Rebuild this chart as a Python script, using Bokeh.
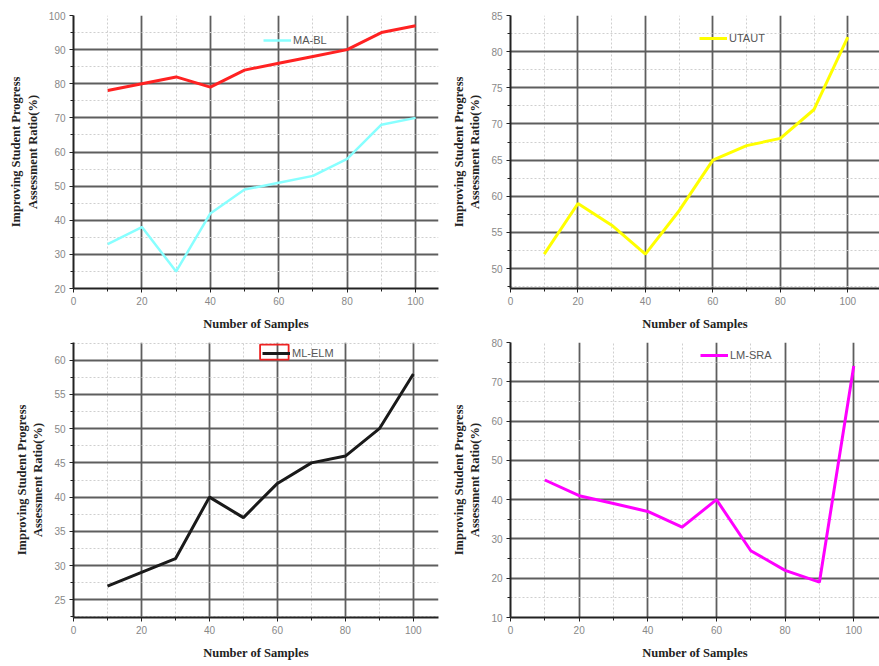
from bokeh.plotting import figure
from bokeh.layouts import gridplot
from bokeh.models import Range1d, FixedTicker, Legend, LegendItem, BoxAnnotation
from bokeh.embed import file_html
from bokeh.resources import INLINE

samples = [10, 20, 30, 40, 50, 60, 70, 80, 90, 100]
red_series = [78, 80, 82, 79, 84, 86, 88, 90, 95, 97]
ma_bl = [33, 38, 25, 42, 49, 51, 53, 58, 68, 70]
utaut = [52, 59, 56, 52, 58, 65, 67, 68, 72, 82]
ml_elm = [27, 29, 31, 40, 37, 42, 45, 46, 50, 58]
lm_sra = [45, 41, 39, 37, 33, 40, 27, 22, 19, 74]

x_ticks = [0, 20, 40, 60, 80, 100]
x_minor = [10, 30, 50, 70, 90]

YLABEL = "Improving Student Progress\nAssessment Ratio(%)"
XLABEL = "Number of Samples"


def make_panel(width, height, xr, yr, yticks, yminor, borders):
    left, right, top, bottom = borders
    p = figure(width=width, height=height, output_backend="svg", toolbar_location=None,
               x_range=Range1d(*xr), y_range=Range1d(*yr),
               min_border_left=left, min_border_right=right,
               min_border_top=top, min_border_bottom=bottom)
    p.outline_line_color = None
    p.background_fill_color = "white"
    p.border_fill_color = "white"
    p.xaxis.ticker = FixedTicker(ticks=x_ticks, minor_ticks=x_minor)
    p.yaxis.ticker = FixedTicker(ticks=yticks, minor_ticks=yminor)
    for ax in (p.xaxis[0], p.yaxis[0]):
        ax.axis_line_color = "#222222"
        ax.axis_line_width = 2
        ax.major_tick_line_color = "#222222"
        ax.minor_tick_line_color = "#222222"
        ax.major_tick_in = 0
        ax.major_tick_out = 4
        ax.minor_tick_in = 0
        ax.minor_tick_out = 3
        ax.major_label_text_font = "Liberation Sans"
        ax.major_label_text_font_size = "10px"
        ax.major_label_text_color = "#888888"
        ax.axis_label_text_font = "Liberation Serif"
        ax.axis_label_text_font_style = "bold"
        ax.axis_label_text_font_size = "12.5px"
        ax.axis_label_text_color = "#222222"
    p.xaxis.axis_label = XLABEL
    p.yaxis.axis_label = YLABEL
    p.xaxis.axis_label_standoff = 9
    p.yaxis.axis_label_standoff = 6
    p.yaxis.major_label_standoff = 4
    p.xaxis.major_label_standoff = 4
    for g in (p.xgrid[0], p.ygrid[0]):
        g.grid_line_color = "#5e5e5e"
        g.grid_line_width = 1.8
        g.minor_grid_line_color = "#cfcfcf"
        g.minor_grid_line_dash = "2 2"
        g.minor_grid_line_width = 1
    return p


def add_legend(p, renderer, label, loc):
    leg = Legend(items=[LegendItem(label=label, renderers=[renderer])], location=loc,
                 background_fill_alpha=0, border_line_color=None,
                 label_text_font="Liberation Sans", label_text_font_size="11px",
                 label_text_color="#555555", glyph_width=28, glyph_height=12,
                 padding=0, margin=0, label_standoff=2, spacing=0)
    p.add_layout(leg)


# Panel 1
p1 = make_panel(440, 333, (0, 106.7), (20, 100), list(range(20, 101, 10)),
                list(range(25, 100, 10)), (73, 2, 15, 44))
p1.line(samples, red_series, line_color="#ff2222", line_width=3)
r1 = p1.line(samples, ma_bl, line_color="#88ffff", line_width=2.5)
add_legend(p1, r1, "MA-BL", (190, 242))

# Panel 2
p2 = make_panel(439, 333, (0, 109.4), (47.24, 85), list(range(50, 86, 5)),
                [47.5 + 5 * i for i in range(8)], (66, 0, 15, 44))
r2 = p2.line(samples, utaut, line_color="#ffff00", line_width=3)
add_legend(p2, r2, "UTAUT", (189, 244))

# Panel 3
p3 = make_panel(440, 333, (0, 107.4), (22.4, 62.6), list(range(25, 61, 5)),
                [22.5 + 5 * i for i in range(9)], (70, 2, 8, 49))
r3 = p3.line(samples, ml_elm, line_color="#1a1a1a", line_width=3)
add_legend(p3, r3, "ML-ELM", (189, 258))
p3.add_layout(BoxAnnotation(left=54.9, right=63.3, bottom=60.1, top=62.3,
                            fill_alpha=0, line_color="#ee2222", line_alpha=1,
                            line_width=1.8))

# Panel 4
p4 = make_panel(439, 333, (0, 107.5), (10, 80), list(range(10, 81, 10)),
                list(range(15, 80, 10)), (70, 0, 9, 49))
r4 = p4.line(samples, lm_sra, line_color="#ff00ff", line_width=3)
add_legend(p4, r4, "LM-SRA", (190, 256))

grid = gridplot([[p1, p2], [p3, p4]], toolbar_location=None)
open("out.html", "w").write(file_html(grid, INLINE))
